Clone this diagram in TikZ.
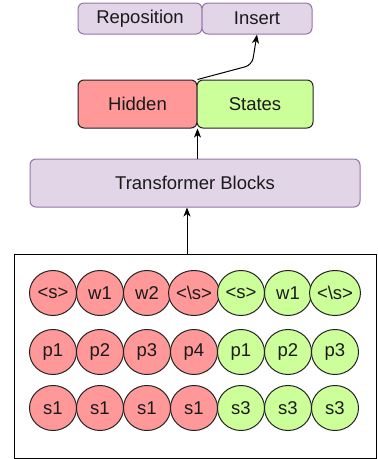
\documentclass[tikz,border=0pt]{standalone}
\usepackage{fontspec}
\setmainfont{Liberation Sans}
\usetikzlibrary{shapes.geometric,arrows.meta}
\definecolor{pfill}{HTML}{E1D5E7}
\definecolor{pline}{HTML}{9673A6}
\definecolor{rfill}{HTML}{FF9999}
\definecolor{gfill}{HTML}{CCFF99}
\definecolor{dline}{HTML}{222222}
\definecolor{txt}{HTML}{1A1A1A}
\tikzset{
  base/.style={rectangle, rounded corners=6pt, line width=1pt, inner sep=0pt, text=txt,
    font=\fontsize{18.5}{20}\selectfont},
  pbox/.style={base, draw=pline, fill=pfill},
  rbox/.style={base, draw=dline, fill=rfill},
  gbox/.style={base, draw=dline, fill=gfill},
  tok/.style={ellipse, draw=dline, line width=1pt, minimum width=47pt, minimum height=45pt,
    inner sep=0pt, text=txt, font=\fontsize{18.5}{20}\selectfont},
  rtok/.style={tok, fill=rfill},
  gtok/.style={tok, fill=gfill},
  arr/.style={-{Stealth[length=9pt,width=7pt,inset=2.5pt]}, line width=1pt, draw=black},
}
\begin{document}
\begin{tikzpicture}[x=1pt,y=-1pt]
\useasboundingbox (0,0) rectangle (378,459);
% top boxes
\node[pbox, minimum width=124pt, minimum height=31pt] (rep) at (140,18.5) {Reposition};
\node[pbox, minimum width=110pt, minimum height=31pt] (ins) at (257,18.5) {Insert};
% hidden states
\node[rbox, minimum width=119pt, minimum height=48pt] (hid) at (137.5,104) {Hidden};
\node[gbox, minimum width=116pt, minimum height=48pt] (sta) at (255,104) {States};
% transformer
\node[pbox, minimum width=330pt, minimum height=48pt] (tb) at (195,183) {Transformer Blocks};
% input box
\node[draw=black, line width=1pt, minimum width=362pt, minimum height=204pt, inner sep=0pt] (inp) at (195,356) {};
\coordinate (ax) at (187,0);
\coordinate (bend) at (252,65);
% tokens row 1
\node[rtok] (a1) at (53,293) {<s>};
\node[rtok] (a2) at (100,293) {w1};
\node[rtok] (a3) at (147,293) {w2};
\node[rtok] (a4) at (194,293) {<\textbackslash s>};
\node[gtok] (a5) at (241,293) {<s>};
\node[gtok] (a6) at (288,293) {w1};
\node[gtok] (a7) at (335,293) {<\textbackslash s>};
% row 2
\node[rtok] (b1) at (53,352) {p1};
\node[rtok] (b2) at (100,352) {p2};
\node[rtok] (b3) at (147,352) {p3};
\node[rtok] (b4) at (194,352) {p4};
\node[gtok] (b5) at (241,352) {p1};
\node[gtok] (b6) at (288,352) {p2};
\node[gtok] (b7) at (335,352) {p3};
% row 3
\node[rtok] (c1) at (53,408) {s1};
\node[rtok] (c2) at (100,408) {s1};
\node[rtok] (c3) at (147,408) {s1};
\node[rtok] (c4) at (194,408) {s1};
\node[gtok] (c5) at (241,408) {s3};
\node[gtok] (c6) at (288,408) {s3};
\node[gtok] (c7) at (335,408) {s3};
% arrows
\draw[arr] (inp.north -| ax) -- (tb.south -| ax);
\draw[arr] (tb.north -| hid.east) -- (hid.south east);
\draw[arr, rounded corners=7pt] (hid.north east) -- (bend) -- (ins.south);
\end{tikzpicture}
\end{document}
